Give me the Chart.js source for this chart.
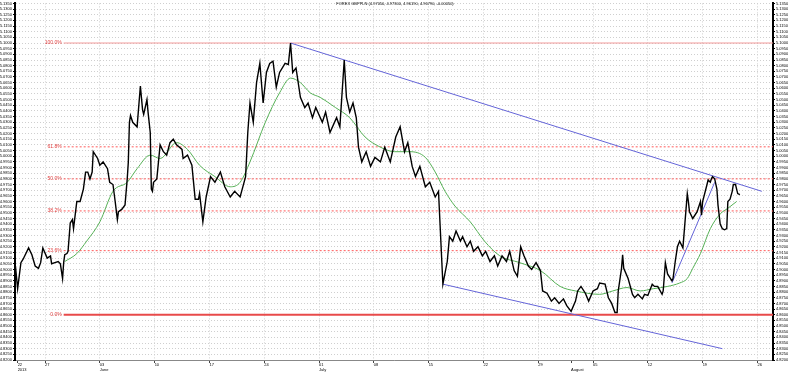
<!DOCTYPE html>
<html>
<head>
<meta charset="utf-8">
<script src="https://cdn.jsdelivr.net/npm/chart.js@4/dist/chart.umd.min.js"></script>
<style>
  html, body { margin: 0; padding: 0; background: #fff; }
  #wrap { width: 788px; height: 372px; }
</style>
</head>
<body>
<div id="wrap"><canvas id="chart" width="788" height="372"></canvas></div>
<script>
// GBP/PLN 2013, x = trading days counted from 1 July (day 0)
const priceDays = [
  -27.7, -27.5, -27.2, -27.0, -26.5, -26.2, -25.9, -25.6, -25.4, -25.2, -24.8, -24.5, -24.4, -24.1, -23.8, -23.6,
  -23.4, -23.3, -23.2, -23.0, -22.9, -22.7, -22.5, -22.4, -22.1, -21.8, -21.5, -21.3, -21.1, -20.9, -20.7, -20.6,
  -20.2, -20.0, -19.7, -19.3, -19.1, -18.8, -18.6, -18.4, -18.3, -18.0, -17.7, -17.5, -17.4, -17.3, -17.2, -17.0,
  -16.6, -16.3, -16.1, -16.0, -15.7, -15.6, -15.4, -15.3, -15.2, -15.1, -14.8, -14.5, -14.2, -13.9, -13.6, -13.3,
  -13.0, -12.5, -12.4, -12.0, -11.6, -11.3, -11.0, -10.9, -10.6, -10.3, -9.9, -9.5, -9.0, -8.6, -8.1, -7.7,
  -7.2, -6.7, -6.5, -6.3, -6.0, -5.7, -5.4, -5.1, -4.8, -4.5, -4.2, -3.9, -3.6, -3.1, -2.8, -2.6,
  -2.4, -2.1, -1.7, -1.3, -1.0, -0.6, -0.3, 0.3, 0.6, 1.0, 1.6, 1.9, 2.3, 2.5, 2.8, 3.1,
  3.4, 3.6, 3.9, 4.3, 4.7, 5.1, 5.6, 6.0, 6.5, 7.0, 7.4, 7.8, 8.1, 8.5, 8.8, 9.2,
  9.7, 10.1, 10.6, 10.9, 11.3, 11.7, 11.9, 12.2, 12.5, 12.9, 13.1, 13.5, 13.8, 14.1, 14.5, 14.9,
  15.2, 15.6, 16.0, 16.3, 16.7, 17.1, 17.4, 17.8, 18.1, 18.4, 18.7, 19.1, 19.4, 19.8, 20.2, 20.4,
  20.8, 21.2, 21.5, 21.9, 22.3, 22.6, 23.0, 23.4, 23.6, 23.9, 24.3, 24.6, 25.0, 25.4, 25.6, 26.1,
  26.4, 26.7, 27.0, 27.2, 27.3, 27.6, 27.7, 27.8, 28.2, 28.6, 28.8, 29.1, 29.5, 29.7, 30.0, 30.4,
  30.6, 30.9, 31.3, 31.4, 31.6, 31.8, 32.2, 32.3, 32.5, 32.7, 32.9, 33.2, 33.6, 33.7, 33.8, 34.1,
  34.5, 34.8, 34.9, 35.0, 35.4, 35.5, 35.7, 35.8, 35.9, 36.1, 36.3, 36.4, 36.6, 36.8, 37.0, 37.2,
  37.3, 37.5, 37.7, 37.8, 38.0, 38.1, 38.2, 38.4
];
const priceVals = [
  4.903, 4.883, 4.906, 4.909, 4.919, 4.913, 4.903, 4.901, 4.906, 4.919, 4.910, 4.912, 4.905, 4.906, 4.907, 4.905,
  4.892, 4.906, 4.913, 4.914, 4.916, 4.941, 4.944, 4.936, 4.960, 4.960, 4.971, 4.986, 4.986, 4.980, 4.986, 5.004,
  4.998, 4.992, 4.995, 4.989, 4.977, 4.975, 4.960, 4.944, 4.951, 4.953, 4.957, 4.980, 4.995, 5.030, 5.036, 5.030,
  5.026, 5.062, 5.041, 5.037, 5.050, 5.039, 5.021, 4.971, 4.969, 4.977, 4.980, 5.010, 5.004, 5.001, 5.012, 5.015,
  5.010, 5.006, 4.998, 5.001, 4.992, 4.962, 4.962, 4.967, 4.942, 4.964, 4.982, 4.977, 4.986, 4.973, 4.964, 4.969,
  4.964, 4.982, 5.021, 5.047, 5.030, 5.065, 5.082, 5.047, 5.074, 5.082, 5.084, 5.061, 5.074, 5.082, 5.081, 5.100,
  5.074, 5.078, 5.052, 5.043, 5.047, 5.034, 5.043, 5.030, 5.039, 5.021, 5.034, 5.026, 5.085, 5.052, 5.039, 5.047,
  5.034, 5.008, 4.995, 5.004, 4.991, 4.999, 4.995, 5.008, 4.995, 5.017, 5.026, 5.004, 5.012, 4.991, 4.982, 4.991,
  4.973, 4.977, 4.964, 4.969, 4.887, 4.907, 4.929, 4.925, 4.934, 4.925, 4.929, 4.920, 4.925, 4.916, 4.920, 4.912,
  4.916, 4.907, 4.912, 4.903, 4.912, 4.907, 4.916, 4.899, 4.894, 4.920, 4.912, 4.903, 4.900, 4.906, 4.899, 4.881,
  4.879, 4.872, 4.875, 4.870, 4.874, 4.868, 4.863, 4.872, 4.881, 4.885, 4.879, 4.872, 4.881, 4.883, 4.888, 4.887,
  4.875, 4.870, 4.862, 4.862, 4.881, 4.901, 4.913, 4.901, 4.892, 4.878, 4.875, 4.878, 4.874, 4.878, 4.877, 4.887,
  4.885, 4.885, 4.878, 4.881, 4.906, 4.896, 4.890, 4.892, 4.907, 4.920, 4.925, 4.919, 4.967, 4.960, 4.951, 4.945,
  4.951, 4.960, 4.948, 4.960, 4.975, 4.979, 4.977, 4.980, 4.982, 4.980, 4.971, 4.957, 4.940, 4.936, 4.935, 4.936,
  4.960, 4.962, 4.969, 4.975, 4.975, 4.971, 4.967, 4.966
];

// moving average (green)
const maDays = [-23.2, -22.1, -21.2, -20.0, -18.8, -17.5, -16.6, -15.4, -14.5, -13.0, -12.0, -10.9, -9.5, -8.1, -7.2, -6.3,
  -4.9, -3.6, -2.6, -1.7, -0.8, 0.1, 1.5, 2.8, 4.2, 5.6, 6.9, 8.3, 9.7, 10.6, 11.5, 12.4,
  13.8, 15.1, 16.5, 18.3, 20.2, 22.0, 23.4, 25.6, 26.8, 28.1, 29.3, 30.5, 31.8, 32.9, 33.6, 34.1,
  34.8, 35.7, 36.6, 37.3, 38.1];
const maVals = [4.907, 4.914, 4.925, 4.942, 4.969, 4.977, 4.989, 5.001, 4.998, 5.012, 5.006, 4.992, 4.982, 4.973, 4.977, 4.995,
  5.030, 5.056, 5.069, 5.065, 5.056, 5.052, 5.043, 5.034, 5.017, 5.008, 5.004, 5.004, 4.999, 4.986, 4.969, 4.956,
  4.942, 4.925, 4.912, 4.906, 4.899, 4.885, 4.881, 4.878, 4.881, 4.884, 4.881, 4.883, 4.885, 4.888, 4.892, 4.901,
  4.914, 4.936, 4.949, 4.954, 4.960];

// Fibonacci retracement between 4.860 and 5.100
const fibLabels = ['0.0%', '23.6%', '38.2%', '50.0%', '61.8%', '100.0%'];
const fibVals = [4.860, 4.9166, 4.9517, 4.980, 5.0083, 5.100];
const fibStart = -23.3;

// trend lines [day, price]
const trendUpper = [[-2.6, 5.100], [40.4, 4.969]];
const trendLower = [[11.3, 4.887], [36.8, 4.830]];
const trendShort = [[32.2, 4.888], [36.1, 4.977]];

// weekly ticks on the time axis
const weekDays = [-27.5, -25, -20, -15, -10, -5, 0, 5, 10, 15, 20, 23, 25, 30, 35, 40];
const weekLabels = [['22', '2013'], ['27', ''], ['03', 'June'], ['10', ''], ['17', ''], ['24', ''], ['01', 'July'],
  ['08', ''], ['15', ''], ['22', ''], ['29', ''], ['', 'August'], ['05', ''], ['12', ''], ['19', ''], ['26', '']];

const xMin = -27.74, xMax = 41.42;
const yMin = 4.820, yMax = 5.135, yStep = 0.005;
const titleText = 'FOREX GBPPLN (4.97050, 4.97300, 4.96190, 4.96790, -0.00050)';

const tinyFont = 'Liberation Sans';
const yTickVals = [];
for (let v = yMin; v <= yMax + 1e-9; v += yStep) yTickVals.push(Math.round(v * 10000) / 10000);

const pairs = (xs, ys) => xs.map((x, i) => ({ x: x, y: ys[i] }));
const seg = (p) => p.map(d => ({ x: d[0], y: d[1] }));

const datasets = [];
datasets.push({
  label: 'GBPPLN', data: pairs(priceDays, priceVals),
  borderColor: '#000', borderWidth: 1.4, pointRadius: 0, tension: 0, order: 0
});
datasets.push({
  label: 'MA', data: pairs(maDays, maVals),
  borderColor: '#55b055', borderWidth: 1, pointRadius: 0, cubicInterpolationMode: 'monotone', order: 1
});
[trendUpper, trendLower, trendShort].forEach((t, i) => {
  datasets.push({
    label: 'trend' + i, data: seg(t),
    borderColor: '#6464d8', borderWidth: 1, pointRadius: 0, order: 2
  });
});
fibVals.forEach((v, i) => {
  const pct = fibLabels[i];
  let style = { borderColor: '#ff5a5a', borderWidth: 1, borderDash: [2, 2] };
  if (pct === '0.0%') style = { borderColor: '#e84a4a', borderWidth: 2, borderDash: [] };
  if (pct === '100.0%') style = { borderColor: '#f29a9a', borderWidth: 1, borderDash: [] };
  datasets.push(Object.assign({
    label: 'fib ' + pct, data: [{ x: fibStart, y: v }, { x: xMax, y: v }],
    pointRadius: 0, order: 3
  }, style));
});

const overlay = {
  id: 'overlay',
  afterDatasetsDraw(chart) {
    const ctx = chart.ctx;
    const xs = chart.scales.x, ys = chart.scales.y;
    ctx.save();
    ctx.font = '5px "' + tinyFont + '"';
    ctx.fillStyle = '#e03c3c';
    ctx.textAlign = 'right';
    ctx.textBaseline = 'middle';
    fibVals.forEach((v, i) => {
      ctx.fillText(fibLabels[i], xs.getPixelForValue(fibStart) - 2, ys.getPixelForValue(v));
    });
    ctx.font = '4px "' + tinyFont + '"';
    ctx.fillStyle = '#000';
    ctx.textAlign = 'center';
    ctx.textBaseline = 'top';
    ctx.fillText(titleText, 395, 2);
    ctx.restore();
  }
};

const yAxis = (pos) => ({
  type: 'linear', position: pos, min: yMin, max: yMax,
  afterBuildTicks: (s) => { s.ticks = yTickVals.map(v => ({ value: v })); },
  afterFit: (s) => { s.width = 15; },
  ticks: {
    autoSkip: false, padding: 1, color: '#000',
    font: { family: tinyFont, size: 4 },
    callback: (v) => Number(v).toFixed(4)
  },
  grid: {
    drawOnChartArea: pos === 'left', color: '#cfcfcf', lineWidth: 1,
    tickLength: 2, tickColor: '#000', tickWidth: 1
  },
  border: { display: true, color: '#000', width: 2, dash: [1, 2] }
});

new Chart(document.getElementById('chart'), {
  type: 'line',
  data: { datasets: datasets },
  options: {
    responsive: false, animation: false,
    layout: { padding: 0 },
    plugins: { legend: { display: false }, tooltip: { enabled: false }, title: { display: false } },
    scales: {
      x: {
        type: 'linear', min: xMin, max: xMax,
        afterBuildTicks: (s) => { s.ticks = weekDays.map(v => ({ value: v })); },
        afterFit: (s) => { s.height = 12; },
        ticks: {
          autoSkip: false, maxRotation: 0, align: 'start', padding: 0, color: '#000',
          font: { family: tinyFont, size: 4, lineHeight: 1.1 },
          callback: (v, i) => weekLabels[i]
        },
        grid: {
          color: (c) => (c.index === 0 || c.index === 11) ? 'rgba(0,0,0,0)' : '#cfcfcf',
          tickLength: 3, tickColor: '#444', tickWidth: 1
        },
        border: { display: true, color: '#888', width: 1, dash: [1, 2] }
      },
      y: yAxis('left'),
      y2: yAxis('right')
    }
  },
  plugins: [overlay]
});
</script>
</body>
</html>
